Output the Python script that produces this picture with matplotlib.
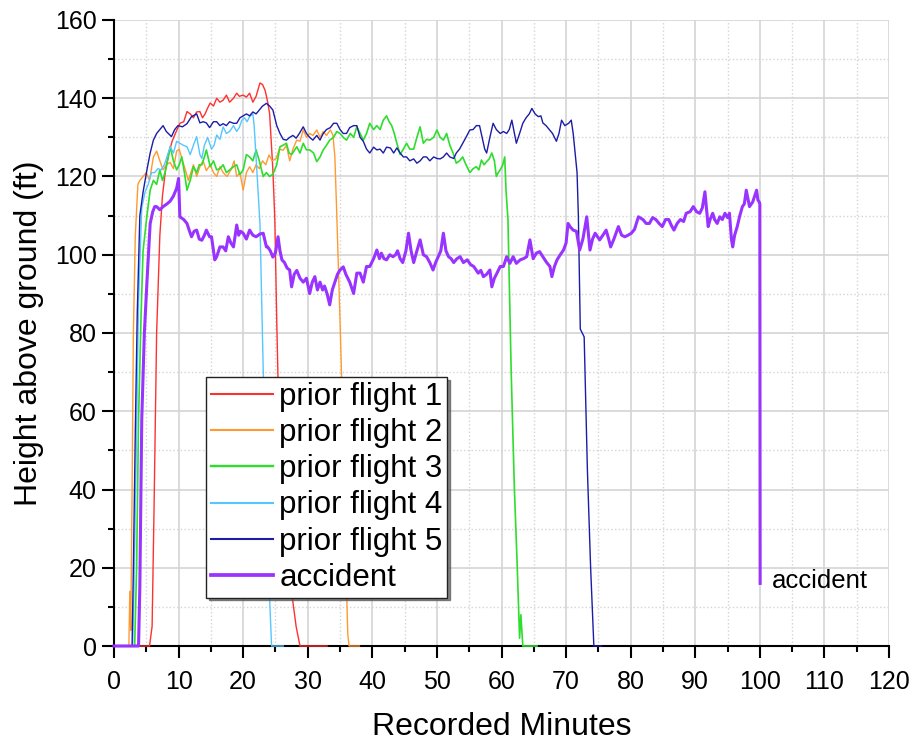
import numpy as np
import matplotlib
matplotlib.use('Agg')
import matplotlib.pyplot as plt
from matplotlib.ticker import MultipleLocator

plt.rcParams['font.family'] = ['Liberation Sans', 'DejaVu Sans']

# prior flight 1
t1 = [0, 5.5, 5.9, 6.2, 6.6, 7.1, 7.5, 8.0, 8.5, 9.0,
      9.5, 10.2, 10.8, 11.3, 11.8, 12.3, 12.8, 13.3, 13.7, 14.1,
      14.5, 14.9, 15.4, 15.9, 16.4, 16.9, 17.4, 17.9, 18.5, 19.0,
      19.4, 20.0, 20.5, 21.0, 21.5, 22.0, 22.6, 23.0, 23.4, 23.8,
      24.1, 24.6, 24.9, 25.2, 25.4, 26.5, 27.6, 28.2, 28.8, 33.0]
h1 = [0, 0, 5, 35, 80, 105, 115, 122, 126, 129,
      131, 133.6, 134, 136.6, 136, 135, 136.5, 136.6, 135, 136,
      137.5, 138.8, 138, 140, 139, 139.5, 140.8, 139, 140, 141.3,
      140.5, 140.8, 140.3, 141.3, 139, 140.5, 143.9, 143.5, 142, 139,
      136, 121.7, 109, 83, 68, 40, 12.5, 5, 0, 0]

# prior flight 2
t2 = [0, 2.3, 2.45, 2.6, 2.8, 3.0, 3.3, 3.7, 4.0, 4.5,
      5.0, 5.5, 6.1, 6.6, 7.1, 7.6, 8.1, 8.7, 9.2, 9.7,
      10.1, 10.5, 11.0, 11.5, 11.9, 12.3, 12.8, 13.3, 13.8, 14.3,
      14.9, 15.4, 15.9, 16.4, 16.9, 17.5, 18.2, 18.6, 19.0, 19.5,
      20.0, 20.5, 21.0, 21.5, 22.0, 22.5, 23.0, 23.5, 24.0, 24.5,
      25.1, 25.6, 26.2, 26.7, 27.2, 27.7, 28.3, 28.8, 29.3, 29.8,
      30.3, 30.8, 31.4, 31.9, 32.4, 32.9, 33.5, 33.9, 34.2, 34.5,
      35.0, 35.3, 35.7, 36.0, 36.2, 36.4, 38.0]
h2 = [0, 0, 14, 4, 40, 80, 105, 118, 119, 120,
      121, 119, 125, 126.5, 124, 121.7, 123, 123.6, 122, 126.5,
      127, 124.6, 122, 119, 121, 123, 120, 122.5, 124, 121.5,
      123, 121, 120, 122.5, 121, 120, 122, 124, 120, 121,
      116.5, 121, 122.5, 121, 123, 122, 124, 123, 125.5, 124,
      124.6, 127, 126.7, 128, 124, 127, 129.3, 129, 131.9, 130,
      131, 130.5, 131.9, 130, 131.5, 130.5, 131.9, 130.6, 125, 110,
      83, 65, 40, 15, 3, 0, 0]

# prior flight 3
t3 = [0, 3.2, 3.5, 3.8, 4.2, 4.5, 5.1, 5.6, 6.1, 6.6,
      7.1, 7.5, 7.9, 8.3, 8.7, 9.2, 9.7, 10.1, 10.5, 10.9,
      11.3, 11.8, 12.3, 12.8, 13.2, 13.6, 14.0, 14.3, 14.9, 15.4,
      15.9, 16.4, 16.9, 17.4, 17.9, 18.5, 19.0, 19.5, 20.0, 20.5,
      21.0, 21.5, 22.0, 22.5, 23.1, 23.6, 24.1, 24.6, 25.2, 25.7,
      26.2, 26.7, 27.1, 27.5, 28.3, 28.8, 29.3, 29.8, 30.3, 30.9,
      31.4, 31.9, 32.4, 32.9, 33.4, 34.0, 34.5, 35.0, 35.5, 36.0,
      36.6, 37.1, 37.6, 38.1, 38.6, 39.1, 39.6, 40.2, 40.7, 41.2,
      41.7, 42.2, 42.6, 43.0, 43.4, 43.8, 44.3, 44.8, 45.3, 45.8,
      46.4, 46.9, 47.4, 47.9, 48.4, 48.9, 49.5, 50.0, 50.5, 51.0,
      51.5, 52.0, 52.5, 53.0, 53.5, 54.0, 54.5, 55.1, 55.6, 56.1,
      56.5, 56.9, 57.3, 57.7, 58.1, 58.5, 58.9, 59.2, 59.5, 59.8,
      60.2, 60.5, 60.7, 61.0, 61.5, 62.0, 62.4, 62.8, 63.0, 63.3,
      65.5]
h3 = [0, 0, 20, 58, 85, 101, 110, 116.5, 119, 118,
      121.7, 119, 121, 124, 127.6, 124, 121.7, 123, 125, 121,
      116.5, 119, 122.5, 121, 123, 123, 125, 126.8, 122.5, 124,
      121.7, 122, 123, 121, 121.7, 122.5, 123, 120.5, 121.7, 125.6,
      125, 124, 126.8, 124, 120, 121, 120, 120.6, 123, 127.6,
      128, 128.5, 126, 125.6, 127.6, 126, 128.5, 126.8, 126.8, 126,
      123.8, 125, 126.8, 128, 129.3, 130, 131.5, 131, 130, 129.3,
      131, 130, 132.7, 131, 129.3, 131, 133.6, 132, 133, 132,
      134.4, 135.5, 134, 133, 131, 128.5, 125.6, 127, 128.5, 127,
      127, 130, 132.7, 128.5, 129.5, 129.3, 130, 131.9, 130, 129.3,
      131, 128, 126, 123.4, 124, 125, 123, 121, 122, 122.5,
      121.7, 124.2, 123, 123.8, 124.5, 126, 124, 120, 121, 121.7,
      123, 125, 116.5, 109, 70, 40, 22, 2, 8, 0,
      0]

# prior flight 4
t4 = [0, 2.9, 3.1, 3.4, 3.8, 4.3, 4.8, 5.3, 5.8, 6.3,
      6.8, 7.3, 7.8, 8.2, 8.7, 9.2, 9.7, 10.2, 10.7, 11.3,
      11.8, 12.3, 12.8, 13.3, 13.6, 14.0, 14.5, 15.1, 15.5, 15.9,
      16.4, 16.9, 17.4, 17.9, 18.5, 19.0, 19.4, 19.8, 20.2, 20.6,
      21.0, 21.5, 21.7, 22.1, 22.6, 23.1, 23.6, 24.1, 24.4, 26.2]
h4 = [0, 0, 15, 45, 88, 112, 116, 118, 121, 121,
      122, 121.7, 123, 125, 127.6, 126, 129, 128.5, 128, 127.6,
      125.6, 128, 130.2, 125.6, 124.6, 128, 130, 127, 128, 130.6,
      129.5, 132.7, 131, 131.5, 133, 131.5, 132.5, 134.4, 135, 134,
      135.3, 136, 133, 122, 108, 71, 40, 12, 0, 0]

# prior flight 5
t5 = [0, 2.8, 3.0, 3.3, 3.6, 4.0, 4.5, 5.1, 5.6, 6.1,
      6.6, 7.1, 7.6, 8.1, 8.9, 9.4, 9.9, 10.6, 11.3, 12.0,
      12.8, 13.3, 13.8, 14.3, 14.8, 15.4, 15.9, 16.4, 16.9, 17.4,
      17.9, 18.5, 19.0, 19.5, 20.0, 20.5, 21.0, 21.5, 22.0, 22.5,
      23.0, 23.6, 24.1, 24.6, 25.2, 25.7, 26.2, 26.7, 27.2, 27.7,
      28.2, 28.7, 29.3, 29.8, 30.3, 30.8, 31.4, 31.9, 32.4, 32.9,
      33.5, 34.0, 34.5, 35.0, 35.5, 36.0, 36.5, 37.1, 37.6, 38.1,
      38.6, 39.1, 39.6, 40.2, 40.7, 41.2, 41.7, 42.2, 42.8, 43.3,
      43.8, 44.3, 44.8, 45.3, 45.8, 46.4, 46.9, 47.4, 47.9, 48.4,
      48.9, 49.5, 50.0, 50.5, 51.0, 51.5, 52.0, 52.6, 53.0, 53.5,
      54.0, 54.5, 55.1, 55.6, 56.1, 56.6, 57.0, 57.4, 57.7, 58.2,
      58.7, 59.2, 59.8, 60.3, 60.8, 61.2, 61.6, 62.0, 62.3, 62.8,
      63.3, 63.8, 64.3, 64.7, 65.2, 65.7, 66.1, 66.4, 66.9, 67.4,
      67.9, 68.5, 68.9, 69.3, 69.8, 70.4, 70.8, 71.1, 71.4, 71.7,
      71.9, 72.2, 72.8, 73.3, 73.8, 74.3, 75.5]
h5 = [0, 0, 20, 55, 85, 110, 116, 121.7, 126, 129.3,
      131, 132, 133, 131.5, 130.2, 132, 133, 132.7, 133.5, 135.3,
      136, 133.7, 134, 133.7, 132.5, 134, 134, 133, 133.5, 133,
      134, 133.6, 133.6, 135, 135.5, 136, 135.5, 136.5, 136, 137,
      138, 138.7, 138, 137, 133, 131, 129.5, 129.3, 130, 130.5,
      129.8, 131, 132.7, 131, 130, 129.3, 130.5, 129.3, 131, 132,
      132.5, 133.6, 133.6, 132, 131, 131, 132.5, 133, 133, 130,
      129, 127, 126, 127.5, 126.8, 127, 126, 127.5, 127.3, 126,
      127.3, 126, 125, 125, 124, 124.5, 123.4, 124, 125, 125,
      124, 125, 124.6, 124.5, 125, 126, 125, 124.6, 126, 127,
      128.5, 130, 131.9, 132, 133, 133, 130, 127, 126, 130,
      133.6, 132, 131, 131.5, 131, 132, 134.4, 131, 128.5, 131,
      133.6, 135, 136, 137.4, 136, 135.3, 135.5, 133.7, 133, 132,
      131, 129, 131, 134.4, 133, 133.6, 134.4, 131, 126, 121,
      110, 81, 79, 45, 20, 0, 0]

# accident flight
ta = [0, 3.8, 4.0, 4.3, 4.7, 5.1, 5.6, 6.0, 6.3, 6.6,
      7.1, 7.6, 8.2, 8.7, 9.2, 9.7, 10.0, 10.2, 10.8, 11.3,
      11.7, 12.0, 12.4, 12.8, 13.2, 13.6, 14.0, 14.3, 14.8, 15.1,
      15.6, 15.9, 16.4, 16.9, 17.3, 17.7, 18.1, 18.5, 19.0, 19.3,
      19.6, 20.0, 20.5, 21.0, 21.5, 22.0, 22.6, 23.1, 23.6, 23.8,
      24.2, 24.6, 25.0, 25.4, 25.7, 26.0, 26.4, 26.8, 27.2, 27.5,
      27.9, 28.3, 28.8, 29.3, 29.8, 30.3, 30.7, 31.1, 31.5, 31.9,
      32.3, 32.6, 33.0, 33.4, 33.8, 34.2, 34.6, 35.0, 35.5, 35.9,
      36.5, 37.1, 37.6, 38.1, 38.6, 39.1, 39.6, 40.2, 40.7, 41.1,
      41.4, 41.8, 42.2, 42.7, 43.2, 43.6, 43.9, 44.3, 44.7, 45.2,
      45.6, 46.0, 46.4, 46.9, 47.4, 47.9, 48.4, 48.9, 49.4, 49.8,
      50.2, 50.6, 51.0, 51.4, 51.8, 52.2, 52.6, 53.1, 53.6, 54.1,
      54.7, 55.2, 55.7, 56.1, 56.4, 56.8, 57.2, 57.7, 58.2, 58.5,
      58.9, 59.3, 59.8, 60.3, 60.8, 61.3, 61.8, 62.3, 62.9, 63.4,
      63.9, 64.4, 64.9, 65.4, 65.9, 66.4, 67.0, 67.5, 67.8, 68.2,
      68.6, 69.1, 69.6, 70.0, 70.3, 70.7, 71.1, 71.6, 72.1, 72.6,
      73.2, 73.7, 74.1, 74.5, 74.9, 75.2, 75.7, 76.2, 76.6, 76.9,
      77.4, 78.1, 78.6, 79.1, 79.6, 80.1, 80.6, 81.2, 81.9, 82.4,
      82.9, 83.4, 83.9, 84.4, 84.9, 85.4, 85.9, 86.3, 86.7, 87.2,
      87.7, 88.2, 88.6, 89.2, 89.7, 90.2, 90.7, 91.1, 91.5, 92.0,
      92.3, 92.7, 93.0, 93.4, 93.8, 94.2, 94.6, 95.0, 95.3, 95.6,
      95.8, 96.1, 96.5, 96.9, 97.3, 97.6, 97.9, 98.2, 98.4, 98.7,
      98.9, 99.2, 99.5, 99.7, 99.9, 100.0, 100.05]
ha = [0, 0, 15, 58, 80, 93, 108, 111, 112.3, 112.3,
      111.5, 112.3, 113, 113.7, 115, 117, 119.5, 109.7, 109, 108,
      106, 104.6, 106, 106.3, 104, 103.7, 105, 106.3, 104.6, 104.6,
      98.7, 99.5, 102, 102, 101, 104.6, 103, 102, 107.6, 105,
      106, 105.5, 104, 106.3, 105, 104.6, 105.3, 105.5, 102, 102,
      101, 99.4, 100.5, 104.6, 101, 98.7, 98, 96.6, 96.1, 91.8,
      95, 96, 94, 93, 94, 90.1, 93, 94.4, 91, 93,
      91, 92, 90, 87.2, 91, 93, 95, 96.1, 96.9, 95,
      93, 90.1, 95.3, 95.3, 93, 97, 97, 99, 101.2, 99,
      100.4, 99, 98.7, 100, 99.5, 100, 101, 99, 98, 101,
      105.5, 101, 98, 101, 103.8, 100, 99.5, 98, 96.1, 98,
      99.5, 101, 105.5, 101, 99.5, 99, 98, 99, 99.5, 98,
      98.7, 97.5, 97, 96, 95.3, 96, 94.4, 95, 96.1, 91.8,
      94, 95.3, 97, 97, 99.5, 97.8, 99.5, 97.8, 98.7, 99,
      99.5, 103.8, 99, 100.4, 100.8, 99.5, 98, 97, 94.4, 97,
      98.7, 100, 101.2, 103, 108, 107, 106.3, 106, 101.2, 104,
      109.7, 101.2, 104, 105.5, 104.5, 103.8, 105, 106.3, 104, 102,
      104, 107.2, 105, 104.6, 105, 105.5, 106.5, 109.7, 109, 108,
      108, 109.5, 109, 108, 107.2, 109, 109, 107.5, 106.3, 108,
      109, 108.5, 110.6, 111, 112.3, 111, 110.6, 112, 116.1, 107.2,
      109, 110.6, 109, 108, 109.7, 109, 110.6, 109.5, 110.6, 104,
      102, 105, 107.2, 110, 112.3, 113, 116.5, 114, 112.3, 113,
      113.5, 115, 116.5, 114, 113.5, 113, 16]

series = [
    (t1, h1, 'prior flight 1', '#ff3030', 1.0),
    (t2, h2, 'prior flight 2', '#ff9a33', 1.0),
    (t3, h3, 'prior flight 3', '#2edd2e', 1.2),
    (t4, h4, 'prior flight 4', '#55c6ff', 1.0),
    (t5, h5, 'prior flight 5', '#1c1ca6', 1.0),
    (ta, ha, 'accident', '#9933ff', 2.2),
]

fig = plt.figure(figsize=(9.13, 7.42), dpi=100)
ax = fig.add_axes([114 / 913, 96 / 742, 775 / 913, 626 / 742])

for t, h, lab, col, lw in series:
    ax.plot(t, h, color=col, lw=lw, label=lab, clip_on=False, zorder=3)

ax.set_xlim(0, 120)
ax.set_ylim(0, 160)
ax.xaxis.set_major_locator(MultipleLocator(10))
ax.xaxis.set_minor_locator(MultipleLocator(5))
ax.yaxis.set_major_locator(MultipleLocator(20))
ax.yaxis.set_minor_locator(MultipleLocator(10))

ax.grid(which='major', color='#d4d4d4', lw=1.2, ls='-', zorder=0)
ax.grid(which='minor', color='#d4d4d4', lw=1.0, ls=':', zorder=0)
ax.set_axisbelow(True)

for s in ['top', 'right']:
    ax.spines[s].set_visible(False)
for s in ['left', 'bottom']:
    ax.spines[s].set_linewidth(1.5)

ax.tick_params(which='major', direction='out', length=8.5, width=1.5,
               labelsize=18)
ax.tick_params(axis='x', which='major', pad=9)
ax.tick_params(axis='y', which='major', pad=4)
ax.tick_params(which='minor', direction='out', length=4.5, width=1.5)

ax.set_xlabel('Recorded Minutes', fontsize=23, labelpad=13)
ax.set_ylabel('Height above ground (ft)', fontsize=23, labelpad=8)

ax.text(101.8, 16.5, 'accident', fontsize=18.5, va='center', ha='left')

leg = ax.legend(loc='upper left', bbox_to_anchor=(0.1187, 0.4297),
                borderaxespad=0, fontsize=22.5, frameon=True, fancybox=False,
                edgecolor='#222222', framealpha=1, handlelength=2.0,
                handletextpad=0.2, labelspacing=0.2, borderpad=0.15,
                shadow={'color': '#555555', 'alpha': 0.7})
leg.get_frame().set_linewidth(1.0)
for line in leg.get_lines():
    line.set_linewidth(line.get_linewidth() + 0.5)

fig.savefig('out.png', dpi=100)
